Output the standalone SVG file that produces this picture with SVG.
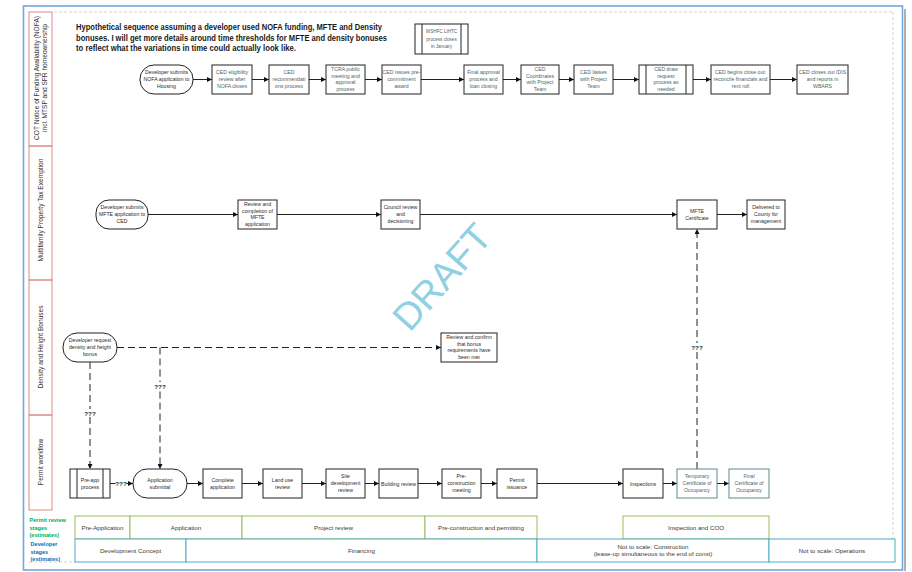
<svg xmlns="http://www.w3.org/2000/svg" width="912" height="572" viewBox="0 0 912 572">
  <style>
    .frame { fill: #fff; stroke: #6fa8dc; stroke-width: 1.6; }
    .lane { fill: none; stroke: #d98a88; stroke-width: 1; }
    .guide { fill: none; stroke: #c8c8c8; stroke-width: 0.8; stroke-dasharray: 3 2; }
    .box { fill: #fff; stroke: #222; stroke-width: 1; }
    .tbox { fill: #fff; stroke: #5d8a8c; stroke-width: 1; }
    .con { fill: none; stroke: #222; stroke-width: 1; marker-end: url(#ah); }
    .line { fill: none; stroke: #222; stroke-width: 1; }
    .dash { stroke-dasharray: 7 4; }
    text { font-family: "Liberation Sans", Arial, sans-serif; }
    .t { font-size: 5.2px; text-anchor: middle; fill: #2b2b2b; }
    .tg { font-size: 5.2px; text-anchor: middle; fill: #4d6668; }
    .ts { font-size: 4.6px; text-anchor: middle; fill: #4d6668; }
    .q { font-size: 6.2px; font-weight: bold; text-anchor: middle; fill: #222; }
    .title { font-size: 8.6px; font-weight: bold; fill: #1a1a1a; }
    .lanelabel { font-size: 6.6px; text-anchor: middle; fill: #333; }
    .stage { font-size: 6.2px; text-anchor: middle; fill: #3a3a3a; }
    .pband { fill: #fff; stroke: #9bbb59; stroke-width: 1; }
    .dband { fill: #fff; stroke: #4bacc6; stroke-width: 1; }
    .pkey { font-size: 5.6px; font-weight: bold; fill: #00b050; }
    .dkey { font-size: 5.6px; font-weight: bold; fill: #0070c0; }
  </style>
  <defs>
    <marker id="ah" viewBox="0 0 10 10" refX="10" refY="5" markerWidth="5" markerHeight="5" markerUnits="userSpaceOnUse" orient="auto">
      <path d="M0,0 L10,5 L0,10 z" fill="#111"/>
    </marker>
  </defs>

  <!-- page -->
  <rect x="0" y="0" width="912" height="572" fill="#fff"/>
  <line x1="905" y1="9" x2="905" y2="571" stroke="#b0b0b0" stroke-width="2"/>
  <rect class="frame" x="23.5" y="6" width="879" height="564"/>
  <line class="guide" x1="54" y1="12" x2="893" y2="12"/>
  <line class="guide" x1="893" y1="12" x2="893" y2="540"/>
  <line class="guide" x1="29" y1="562" x2="75" y2="562"/>

  <!-- swimlane headers -->
  <g id="lanes">
    <rect class="lane" x="29" y="12" width="23" height="134"/>
    <rect class="lane" x="29" y="146" width="23" height="134"/>
    <rect class="lane" x="29" y="280" width="23" height="135"/>
    <rect class="lane" x="29" y="415" width="23" height="95"/>
    <text class="lanelabel" transform="translate(38.5,78) rotate(-90)">COT Notice of Funding Availability (NOFA)</text>
    <text class="lanelabel" transform="translate(47,78) rotate(-90)">incl. MTSP and SFR homeownership</text>
    <text class="lanelabel" transform="translate(43,210) rotate(-90)">Multifamily Property Tax Exemption</text>
    <text class="lanelabel" transform="translate(43,347) rotate(-90)">Density and Height Bonuses</text>
    <text class="lanelabel" transform="translate(43,462) rotate(-90)">Permit workflow</text>
  </g>

  <!-- heading -->
  <g id="title">
    <text class="title" x="76" y="30" textLength="306" lengthAdjust="spacingAndGlyphs">Hypothetical sequence assuming a developer used NOFA funding, MFTE and Density</text>
    <text class="title" x="76" y="40.5" textLength="311" lengthAdjust="spacingAndGlyphs">bonuses. I will get more details around time thresholds for MFTE and density bonuses</text>
    <text class="title" x="76" y="51" textLength="220" lengthAdjust="spacingAndGlyphs">to reflect what the variations in time could actually look like.</text>
  </g>

  <g id="wshfc">
    <rect class="box" x="415" y="24" width="53" height="30"/>
    <line class="line" x1="422" y1="24" x2="422" y2="54"/>
    <line class="line" x1="461" y1="24" x2="461" y2="54"/>
    <text class="ts" x="441.5" y="33">WSHFC LIHTC</text>
    <text class="ts" x="441.5" y="40.5">process closes</text>
    <text class="ts" x="441.5" y="48">in January</text>
  </g>

  <!-- watermark -->
  <text transform="translate(442,277) rotate(-48.5)" x="0" y="13" font-size="38" text-anchor="middle" fill="#8fd0e2" font-family="Liberation Sans, Arial, sans-serif">DRAFT</text>

  <!-- connectors -->
  <g id="connectors">
    <!-- NOFA lane -->
    <line class="con" x1="193" y1="79.5" x2="212" y2="79.5"/>
    <line class="con" x1="252" y1="79.5" x2="269" y2="79.5"/>
    <line class="con" x1="309" y1="79.5" x2="326" y2="79.5"/>
    <line class="con" x1="365" y1="79.5" x2="382" y2="79.5"/>
    <line class="con" x1="421" y1="79.5" x2="464" y2="79.5"/>
    <line class="con" x1="503" y1="79.5" x2="521" y2="79.5"/>
    <line class="con" x1="559" y1="79.5" x2="574" y2="79.5"/>
    <line class="con" x1="613" y1="79.5" x2="639" y2="79.5"/>
    <line class="con" x1="693" y1="79.5" x2="711" y2="79.5"/>
    <line class="con" x1="770" y1="79.5" x2="797" y2="79.5"/>
    <!-- MFTE lane -->
    <line class="con" x1="148" y1="214.5" x2="238" y2="214.5"/>
    <line class="con" x1="277" y1="214.5" x2="381" y2="214.5"/>
    <line class="con" x1="420" y1="214.5" x2="677" y2="214.5"/>
    <line class="con" x1="717" y1="214.5" x2="747" y2="214.5"/>
    <!-- density lane -->
    <line class="con dash" x1="117" y1="347.5" x2="441" y2="347.5"/>
    <line class="con dash" x1="90" y1="362" x2="90" y2="469"/>
    <line class="con dash" x1="160" y1="347.5" x2="160" y2="469"/>
    <line class="con dash" x1="697" y1="469" x2="697" y2="229"/>
    <rect x="82" y="409" width="16" height="8" fill="#fff"/>
    <text class="q" x="90" y="415.5">???</text>
    <rect x="152" y="382" width="16" height="8" fill="#fff"/>
    <text class="q" x="160" y="388.5">???</text>
    <rect x="689" y="343" width="16" height="8" fill="#fff"/>
    <text class="q" x="697" y="349.5">???</text>
    <!-- permit lane -->
    <line class="line" x1="110" y1="483.5" x2="115.5" y2="483.5"/>
    <text class="q" x="121" y="485.7">???</text>
    <line class="con" x1="126.5" y1="483.5" x2="133" y2="483.5"/>
    <line class="con" x1="187" y1="483.5" x2="203" y2="483.5"/>
    <line class="con" x1="242" y1="483.5" x2="263" y2="483.5"/>
    <line class="con" x1="302" y1="483.5" x2="326" y2="483.5"/>
    <line class="con" x1="365" y1="483.5" x2="379" y2="483.5"/>
    <line class="con" x1="418" y1="483.5" x2="442" y2="483.5"/>
    <line class="con" x1="481" y1="483.5" x2="497" y2="483.5"/>
    <line class="con" x1="537" y1="483.5" x2="623" y2="483.5"/>
    <line class="con" x1="663" y1="483.5" x2="677" y2="483.5"/>
    <line class="con" x1="717" y1="483.5" x2="729" y2="483.5"/>
  </g>

  <!-- NOFA lane nodes -->
  <g id="nofa-submit">
    <rect class="box" x="140" y="65" width="53" height="29" rx="14"/>
    <text class="t" x="166.5" y="74">Developer submits</text>
    <text class="t" x="166.5" y="81">NOFA application to</text>
    <text class="t" x="166.5" y="88">Housing</text>
  </g>
  <g id="ced-eligibility">
    <rect class="box" x="212" y="65" width="40" height="29"/>
    <text class="tg" x="232" y="74">CED eligibility</text>
    <text class="tg" x="232" y="81">review after</text>
    <text class="tg" x="232" y="88">NOFA closes</text>
  </g>
  <g id="ced-recommend">
    <rect class="box" x="269" y="65" width="40" height="29"/>
    <text class="tg" x="289" y="74">CED</text>
    <text class="tg" x="289" y="81">recommendati</text>
    <text class="tg" x="289" y="88">ons  process</text>
  </g>
  <g id="tcra">
    <rect class="box" x="326" y="65" width="39" height="29"/>
    <text class="tg" x="345.5" y="71">TCRA public</text>
    <text class="tg" x="345.5" y="77.5">meeting and</text>
    <text class="tg" x="345.5" y="84">approval</text>
    <text class="tg" x="345.5" y="90.5">process</text>
  </g>
  <g id="precommit">
    <rect class="box" x="382" y="65" width="39" height="29"/>
    <text class="tg" x="401.5" y="74">CED issues pre-</text>
    <text class="tg" x="401.5" y="81">commitment</text>
    <text class="tg" x="401.5" y="88">award</text>
  </g>
  <g id="final-approval">
    <rect class="box" x="464" y="65" width="39" height="29"/>
    <text class="tg" x="483.5" y="74">Final approval</text>
    <text class="tg" x="483.5" y="81">process and</text>
    <text class="tg" x="483.5" y="88">loan closing</text>
  </g>
  <g id="ced-coordinates">
    <rect class="box" x="521" y="65" width="38" height="29"/>
    <text class="tg" x="540" y="71">CED</text>
    <text class="tg" x="540" y="77.5">Coordinates</text>
    <text class="tg" x="540" y="84">with Project</text>
    <text class="tg" x="540" y="90.5">Team</text>
  </g>
  <g id="ced-liaises">
    <rect class="box" x="574" y="65" width="39" height="29"/>
    <text class="tg" x="593.5" y="74">CED liaises</text>
    <text class="tg" x="593.5" y="81">with Project</text>
    <text class="tg" x="593.5" y="88">Team</text>
  </g>
  <g id="draw-request">
    <rect class="box" x="639" y="65" width="54" height="29"/>
    <line class="line" x1="646" y1="65" x2="646" y2="94"/>
    <line class="line" x1="686" y1="65" x2="686" y2="94"/>
    <text class="tg" x="666" y="71">CED draw</text>
    <text class="tg" x="666" y="77.5">request</text>
    <text class="tg" x="666" y="84">process as</text>
    <text class="tg" x="666" y="90.5">needed</text>
  </g>
  <g id="close-out">
    <rect class="box" x="711" y="65" width="59" height="29"/>
    <text class="tg" x="740.5" y="74">CED begins close out:</text>
    <text class="tg" x="740.5" y="81">reconcile financials and</text>
    <text class="tg" x="740.5" y="88">rent roll</text>
  </g>
  <g id="idis">
    <rect class="box" x="797" y="65" width="51" height="29"/>
    <text class="tg" x="822.5" y="74">CED closes out IDIS</text>
    <text class="tg" x="822.5" y="81">and reports in</text>
    <text class="tg" x="822.5" y="88">WBARS</text>
  </g>

  <!-- MFTE lane nodes -->
  <g id="mfte-submit">
    <rect class="box" x="96" y="200" width="52" height="29" rx="13"/>
    <text class="t" x="122" y="209">Developer submits</text>
    <text class="t" x="122" y="216">MFTE application to</text>
    <text class="t" x="122" y="223">CED</text>
  </g>
  <g id="mfte-review">
    <rect class="box" x="238" y="200" width="39" height="29"/>
    <text class="t" x="257.5" y="206">Review and</text>
    <text class="t" x="257.5" y="212.5">completion of</text>
    <text class="t" x="257.5" y="219">MFTE</text>
    <text class="t" x="257.5" y="225.5">application</text>
  </g>
  <g id="council">
    <rect class="box" x="381" y="200" width="39" height="29"/>
    <text class="t" x="400.5" y="209">Council review</text>
    <text class="t" x="400.5" y="216">and</text>
    <text class="t" x="400.5" y="223">decisioning</text>
  </g>
  <g id="mfte-cert">
    <rect class="box" x="677" y="200" width="40" height="29"/>
    <text class="t" x="697" y="212.5">MFTE</text>
    <text class="t" x="697" y="219.5">Certificate</text>
  </g>
  <g id="county">
    <rect class="box" x="747" y="200" width="38" height="29"/>
    <text class="t" x="766" y="209">Delivered to</text>
    <text class="t" x="766" y="216">County for</text>
    <text class="t" x="766" y="223">management</text>
  </g>

  <!-- density lane nodes -->
  <g id="density-request">
    <rect class="box" x="63" y="333" width="54" height="29" rx="14"/>
    <text class="t" x="90" y="342">Developer request</text>
    <text class="t" x="90" y="349">density and height</text>
    <text class="t" x="90" y="356">bonus</text>
  </g>
  <g id="bonus-confirm">
    <rect class="box" x="441" y="333" width="56" height="29"/>
    <text class="t" x="469" y="339">Review and confirm</text>
    <text class="t" x="469" y="345.5">that bonus</text>
    <text class="t" x="469" y="352">requirements have</text>
    <text class="t" x="469" y="358.5">been met</text>
  </g>

  <!-- permit lane nodes -->
  <g id="pre-app">
    <rect class="box" x="70" y="469" width="40" height="29"/>
    <line class="line" x1="77" y1="469" x2="77" y2="498"/>
    <line class="line" x1="103" y1="469" x2="103" y2="498"/>
    <text class="t" x="90" y="482">Pre-app</text>
    <text class="t" x="90" y="489">process</text>
  </g>
  <g id="app-submittal">
    <rect class="box" x="133" y="469" width="54" height="29" rx="14"/>
    <text class="t" x="160" y="482">Application</text>
    <text class="t" x="160" y="489">submittal</text>
  </g>
  <g id="complete-app">
    <rect class="box" x="203" y="469" width="39" height="29"/>
    <text class="t" x="222.5" y="482">Complete</text>
    <text class="t" x="222.5" y="489">application</text>
  </g>
  <g id="land-use">
    <rect class="box" x="263" y="469" width="39" height="29"/>
    <text class="t" x="282.5" y="482">Land use</text>
    <text class="t" x="282.5" y="489">review</text>
  </g>
  <g id="site-dev">
    <rect class="box" x="326" y="469" width="39" height="29"/>
    <text class="t" x="345.5" y="478">Site</text>
    <text class="t" x="345.5" y="485">development</text>
    <text class="t" x="345.5" y="492">review</text>
  </g>
  <g id="building">
    <rect class="box" x="379" y="469" width="39" height="29"/>
    <text class="t" x="398.5" y="485.5">Building review</text>
  </g>
  <g id="pre-construction">
    <rect class="box" x="442" y="469" width="39" height="29"/>
    <text class="t" x="461.5" y="478">Pre-</text>
    <text class="t" x="461.5" y="485">construction</text>
    <text class="t" x="461.5" y="492">meeting</text>
  </g>
  <g id="permit-issuance">
    <rect class="box" x="497" y="469" width="40" height="29"/>
    <text class="t" x="517" y="482">Permit</text>
    <text class="t" x="517" y="489">issuance</text>
  </g>
  <g id="inspections">
    <rect class="box" x="623" y="469" width="40" height="29"/>
    <text class="t" x="643" y="485.5">Inspections</text>
  </g>
  <g id="temp-coo">
    <rect class="tbox" x="677" y="469" width="40" height="29"/>
    <text class="tg" x="697" y="478">Temporary</text>
    <text class="tg" x="697" y="485">Certificate of</text>
    <text class="tg" x="697" y="492">Occupancy</text>
  </g>
  <g id="final-coo">
    <rect class="tbox" x="729" y="469" width="40" height="29"/>
    <text class="tg" x="749" y="478">Final</text>
    <text class="tg" x="749" y="485">Certificate of</text>
    <text class="tg" x="749" y="492">Occupancy</text>
  </g>

  <!-- stage bands -->
  <g id="stage-key">
    <text class="pkey" x="29.5" y="522">Permit review</text>
    <text class="pkey" x="29.5" y="529.5">stages</text>
    <text class="pkey" x="29.5" y="537">(estimates)</text>
    <text class="dkey" x="30.5" y="546">Developer</text>
    <text class="dkey" x="30.5" y="553.5">stages</text>
    <text class="dkey" x="30.5" y="561">(estimates)</text>
  </g>
  <g id="permit-stages">
    <rect class="pband" x="75" y="516" width="55" height="23"/>
    <rect class="pband" x="130" y="516" width="112" height="23"/>
    <rect class="pband" x="242" y="516" width="183" height="23"/>
    <rect class="pband" x="425" y="516" width="112" height="23"/>
    <rect class="pband" x="623" y="516" width="146" height="23"/>
    <text class="stage" x="102.5" y="529.5">Pre-Application</text>
    <text class="stage" x="186" y="529.5">Application</text>
    <text class="stage" x="333.5" y="529.5">Project review</text>
    <text class="stage" x="481" y="529.5">Pre-construction and permitting</text>
    <text class="stage" x="696" y="529.5">Inspection and COO</text>
  </g>
  <g id="developer-stages">
    <rect class="dband" x="75" y="539" width="111" height="23"/>
    <rect class="dband" x="186" y="539" width="351" height="23"/>
    <rect class="dband" x="537" y="539" width="232" height="23"/>
    <rect class="dband" x="769" y="539" width="126" height="23"/>
    <text class="stage" x="130.5" y="552.5">Development Concept</text>
    <text class="stage" x="361.5" y="552.5">Financing</text>
    <text class="stage" x="653" y="548.5">Not to scale: Construction</text>
    <text class="stage" x="653" y="556">(lease-up simultaneous to the end of const)</text>
    <text class="stage" x="832" y="552.5">Not to scale: Operations</text>
  </g>
</svg>
